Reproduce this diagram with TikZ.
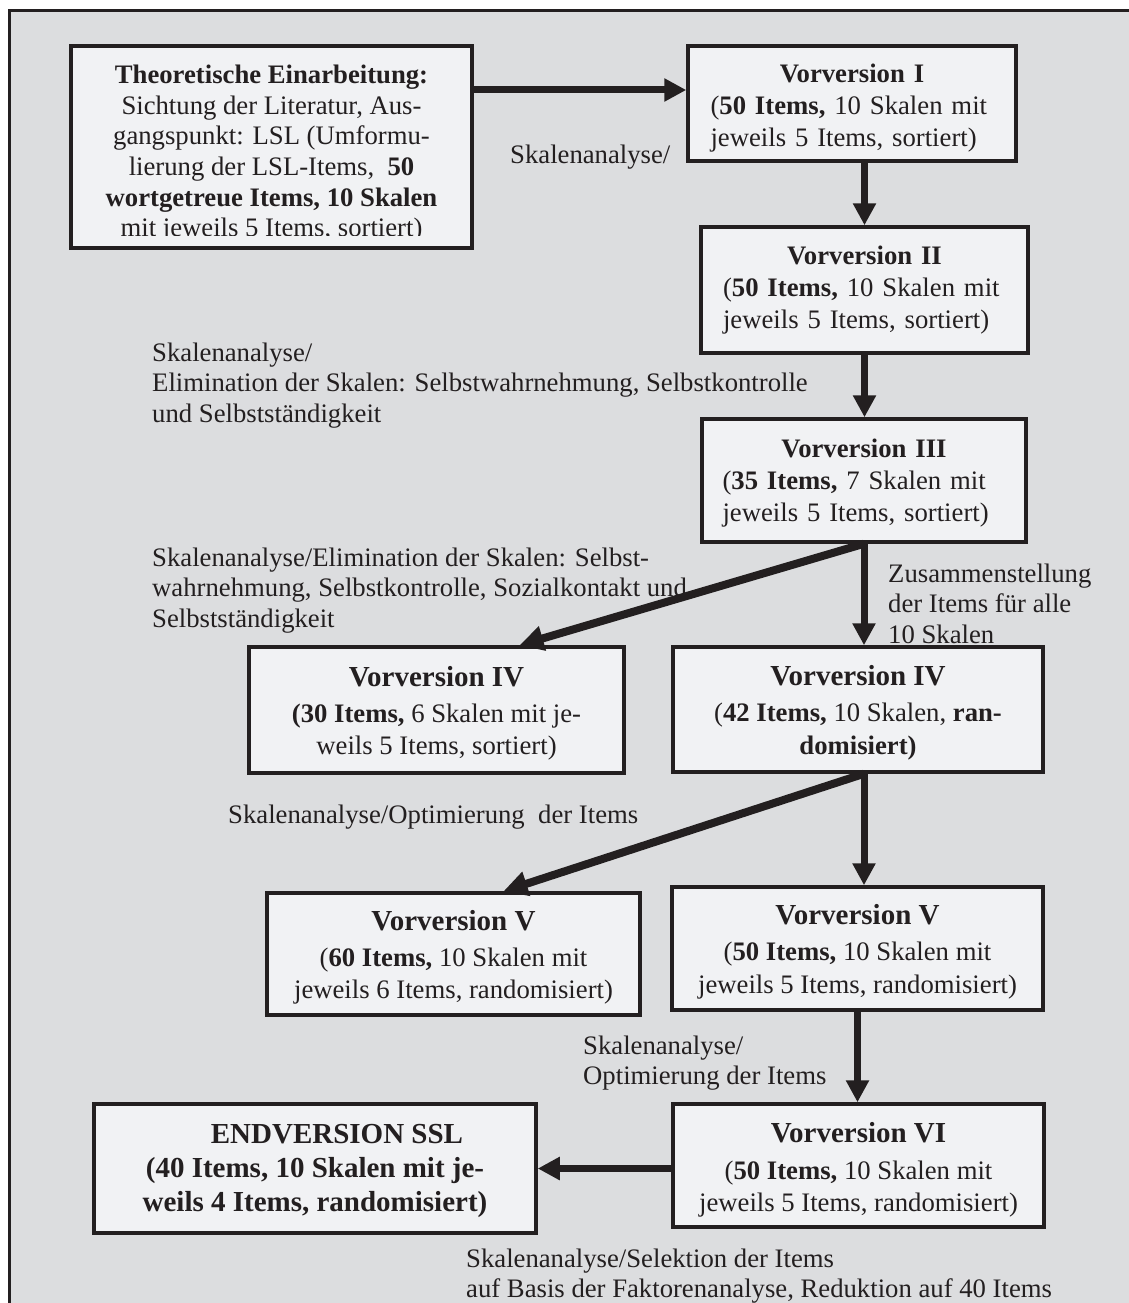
\documentclass[tikz,border=0pt]{standalone}
\usepackage{fontspec}
\setmainfont{Liberation Serif}
\usetikzlibrary{arrows.meta}

\definecolor{bgray}{RGB}{220,221,223}
\definecolor{boxfill}{RGB}{241,242,244}
\definecolor{ink}{RGB}{35,31,32}

\newcommand\bodyfont{\fontsize{26.7}{32}\selectfont}
\newcommand\widefont{\fontsize{26.7}{32.5}\selectfont}
\newcommand\bigtitle[1]{{\fontsize{29}{34}\selectfont\bfseries #1}}
\newcommand\tstrut[1]{\rule{0pt}{#1}}

\tikzset{
  box/.style={draw=ink, line width=3.5pt, fill=boxfill, align=center,
    inner sep=0pt, text=ink, font=\bodyfont},
  wbox/.style={box, font=\widefont},
  arr/.style={draw=ink, line width=7pt, -{Triangle[length=22pt,width=22pt]}},
  darr/.style={draw=ink, line width=8pt, -{Triangle[length=24pt,width=24pt]}},
  lbl/.style={anchor=north west, inner sep=0pt, align=left, text=ink,
    font=\fontsize{26.7}{30.5}\selectfont},
}

\begin{document}
\begin{tikzpicture}[x=1pt,y=-1pt]
\useasboundingbox (0,0) rectangle (1129,1303);
\fill[white] (0,0) rectangle (1129,1303);

% outer frame, running off the right and bottom edges
\draw[ink, line width=3.5pt, fill=bgray] (9.5,10.5) rectangle (1170,1340);

% first box: text is cut off at the lower edge
\node[box, minimum width=401pt, minimum height=202pt] (theo) at (271.5,147) {};
\begin{scope}
  \clip (73,48) rectangle (470,235);
  \node[anchor=north, inner sep=0pt, align=center, text=ink,
        font=\fontsize{26.7}{30.6}\selectfont] (theotext) at (271.5,65)
    {\textbf{Theoretische Einarbeitung:}\\
     Sichtung der Literatur, Aus-\\
     gangspunkt: LSL (Umformu-\\
     lierung der LSL-Items,\ \ \textbf{50}\\
     \textbf{wortgetreue Items, 10 Skalen}\\
     mit jeweils 5 Items, sortiert)};
\end{scope}

% left-aligned version boxes
\node[box, minimum width=328pt, minimum height=115pt, text width=283pt, align=left] (v1) at (852,103.5)
  {\makebox[283pt]{\tstrut{28pt}\textbf{Vorversion I}}\\
   (\textbf{50 Items,} 10 Skalen mit\\
   jeweils 5 Items, sortiert)};
\node[box, minimum width=327pt, minimum height=126pt, text width=283pt, align=left] (v2) at (864.5,290)
  {\makebox[283pt]{\textbf{Vorversion II}}\\
   (\textbf{50 Items,} 10 Skalen mit\\
   jeweils 5 Items, sortiert)};
\node[box, minimum width=324pt, minimum height=123pt, text width=283pt, align=left] (v3) at (864,480.5)
  {\makebox[283pt]{\tstrut{23pt}\textbf{Vorversion III}}\\
   (\textbf{35 Items,} 7 Skalen mit\\
   jeweils 5 Items, sortiert)};

% centred version boxes
\node[wbox, minimum width=375pt, minimum height=126pt] (v4a) at (436.5,710)
  {\tstrut{27pt}\bigtitle{Vorversion IV}\\[3.5pt]
   \textbf{(30 Items,} 6 Skalen mit je-\\
   weils 5 Items, sortiert)};
\node[wbox, minimum width=370pt, minimum height=125pt] (v4b) at (858,709.5)
  {\tstrut{27pt}\bigtitle{Vorversion IV}\\[3.5pt]
   (\textbf{42 Items,} 10 Skalen, \textbf{ran-}\\
   \textbf{domisiert)}};
\node[wbox, minimum width=373pt, minimum height=122pt] (v5a) at (453.5,954)
  {\tstrut{27pt}\bigtitle{Vorversion V}\\[3.5pt]
   (\textbf{60 Items,} 10 Skalen mit\\
   jeweils 6 Items, randomisiert)};
\node[wbox, minimum width=371pt, minimum height=123pt] (v5b) at (857.5,948.5)
  {\tstrut{27pt}\bigtitle{Vorversion V}\\[3.5pt]
   (\textbf{50 Items,} 10 Skalen mit\\
   jeweils 5 Items, randomisiert)};
\node[wbox, minimum width=371pt, minimum height=123pt] (v6) at (858.5,1165.5)
  {\tstrut{29pt}\bigtitle{Vorversion VI}\\[4.5pt]
   (\textbf{50 Items,} 10 Skalen mit\\
   jeweils 5 Items, randomisiert)};
\node[box, minimum width=442pt, minimum height=129pt,
      font=\fontsize{29}{34}\selectfont\bfseries] (end) at (315,1168.5)
  {\tstrut{25pt}\hspace*{44pt}ENDVERSION SSL\\
   (40 Items, 10 Skalen mit je-\\
   weils 4 Items, randomisiert)};

% connectors
\draw[arr] ([yshift=57pt]theo.east) -- ([yshift=57pt]theo.east -| v1.west);
\draw[arr] (v2.north |- v1.south) -- (v2.north);
\draw[arr] (v2.south) -- (v2.south |- v3.north);
\draw[darr] (v3.south) -- ([xshift=83pt]v4a.north);
\draw[arr] (v3.south) -- (v3.south |- v4b.north);
\draw[darr] (v3.south |- v4b.south) -- ([xshift=50pt]v5a.north);
\draw[arr] (v3.south |- v4b.south) -- (v3.south |- v5b.north);
\draw[arr] (v5b.south) -- (v5b.south |- v6.north);
\draw[arr] (end.east -| v6.west) -- (end.east);

% step descriptions
\node[lbl, anchor=west] (l1) at (510,157) {Skalenanalyse/};
\node[lbl] (l2) at (152,342.5)
  {Skalenanalyse/\\
   Elimination der Skalen: Selbstwahrnehmung, Selbstkontrolle\\
   und Selbstständigkeit};
\node[lbl] (l3) at (152,547.5)
  {Skalenanalyse/Elimination der Skalen: Selbst-\\
   wahrnehmung, Selbstkontrolle, Sozialkontakt und\\
   Selbstständigkeit};
\node[lbl] (l4) at (888,563.5)
  {Zusammenstellung\\
   der Items für alle\\
   10 Skalen};
\node[lbl, anchor=west] (l5) at (228,817) {Skalenanalyse/Optimierung\ \ der Items};
\node[lbl] (l6) at (583,1035.5)
  {Skalenanalyse/\\
   Optimierung der Items};
\node[lbl] (l7) at (466,1248.5)
  {Skalenanalyse/Selektion der Items\\
   auf Basis der Faktorenanalyse, Reduktion auf 40 Items};
\end{tikzpicture}
\end{document}
